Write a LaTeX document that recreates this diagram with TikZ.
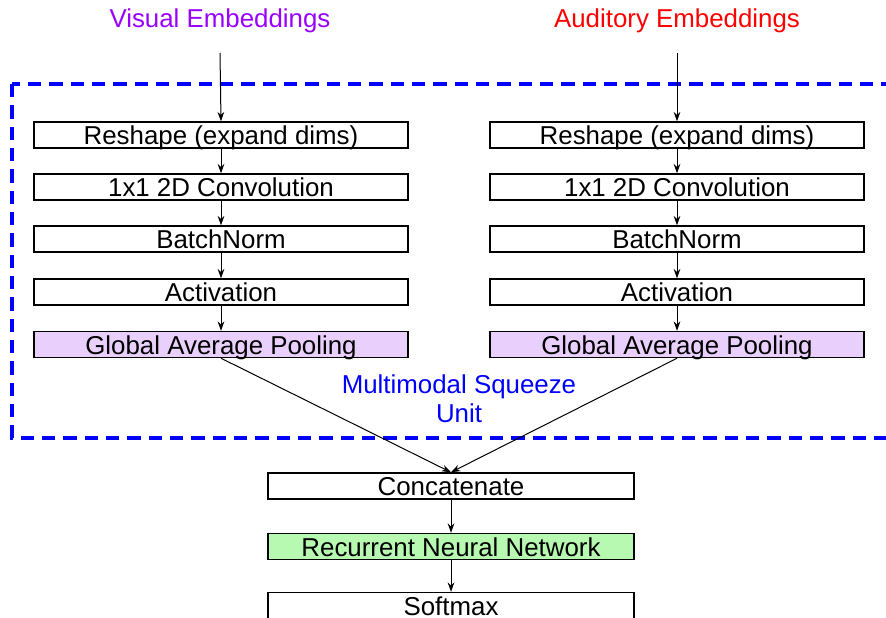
\documentclass[tikz,border=0pt]{standalone}
\usepackage{fontspec}
\setmainfont{Liberation Sans}
\usepackage{tikz}
\usetikzlibrary{arrows.meta}

\definecolor{vispurple}{HTML}{9900FF}
\definecolor{audred}{HTML}{FF0000}
\definecolor{unitblue}{HTML}{0000FF}
\definecolor{poolfill}{HTML}{E9CFFB}
\definecolor{rnnfill}{HTML}{B7F9B1}

\tikzset{
  layerbox/.style={shape=rectangle,draw=black,line width=1.1pt,minimum width=280.5pt,minimum height=19.5pt,inner sep=0pt,text height=16.5pt,text depth=2pt},
  headbox/.style={layerbox,minimum width=274.5pt},
  arr/.style={-{Stealth[length=7pt,width=5pt]},line width=0.75pt},
  dashbox/.style={draw=unitblue,line width=2.6pt,dash pattern=on 10pt off 6pt}
}

\begin{document}
\begin{tikzpicture}[x=0.75pt,y=-0.75pt,font=\fontsize{19.4}{21.75}\selectfont]
\useasboundingbox (0,0) rectangle (886,618);
\clip (0,0) rectangle (886,618);
% inputs
\node[text=vispurple] (vlab) at (220,21) {Visual Embeddings};
\node[text=audred] (alab) at (677,21) {Auditory Embeddings};
\coordinate (vin) at (220,53);
\coordinate (ain) at (677,53);
% squeeze unit
\draw[dashbox] (12,84) rectangle (910,438);
\node[text=unitblue,align=center] (unit) at (459,399) {Multimodal Squeeze\\Unit};
% visual branch
\node[layerbox] (v1) at (221,135) {Reshape (expand dims)};
\node[layerbox] (v2) at (221,187) {1x1 2D Convolution};
\node[layerbox] (v3) at (221,239) {BatchNorm};
\node[layerbox] (v4) at (221,292) {Activation};
\node[layerbox,fill=poolfill] (v5) at (221,344.5) {Global Average Pooling};
% auditory branch
\node[layerbox] (a1) at (677,135) {Reshape (expand dims)};
\node[layerbox] (a2) at (677,187) {1x1 2D Convolution};
\node[layerbox] (a3) at (677,239) {BatchNorm};
\node[layerbox] (a4) at (677,292) {Activation};
\node[layerbox,fill=poolfill] (a5) at (677,344.5) {Global Average Pooling};
% head
\node[headbox] (cat) at (451,486) {Concatenate};
\node[headbox,fill=rnnfill] (rnn) at (451,546.5) {Recurrent Neural Network};
\node[headbox] (soft) at (451,605.5) {Softmax};
\path [arr] (vin) edge (v1.north);
\path [arr] (v1) edge (v2);
\path [arr] (v2) edge (v3);
\path [arr] (v3) edge (v4);
\path [arr] (v4) edge (v5);
\path [arr] (ain) edge (a1.north);
\path [arr] (a1) edge (a2);
\path [arr] (a2) edge (a3);
\path [arr] (a3) edge (a4);
\path [arr] (a4) edge (a5);
\path [arr] (v5.south) edge (cat.north);
\path [arr] (a5.south) edge (cat.north);
\path [arr] (cat) edge (rnn);
\path [arr] (rnn) edge (soft);
\end{tikzpicture}
\end{document}
